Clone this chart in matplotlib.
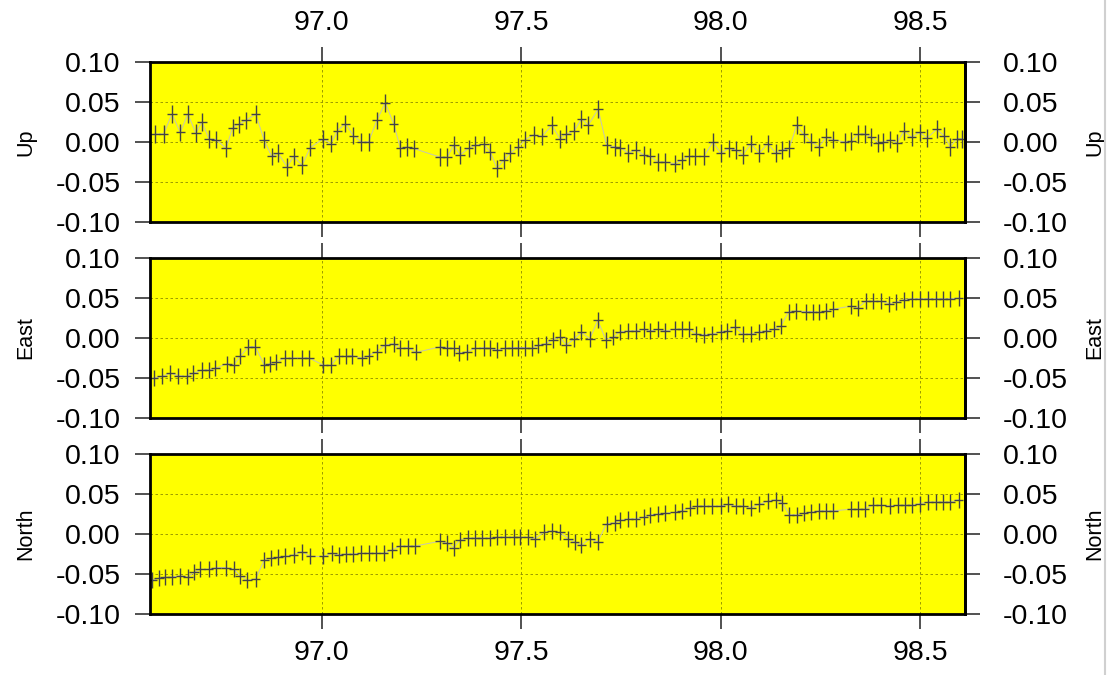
import matplotlib
matplotlib.use("Agg")
import matplotlib.pyplot as plt
from matplotlib.lines import Line2D
from matplotlib.ticker import FormatStrFormatter

# decimal years (19xx) and residuals (m)
up_t = [96.582, 96.603, 96.624, 96.645, 96.664, 96.684, 96.699, 96.717, 96.735, 96.760,
        96.776, 96.791, 96.810, 96.834, 96.855, 96.874, 96.890, 96.913, 96.929, 96.950,
        96.971, 97.003, 97.023, 97.039, 97.059, 97.079, 97.099, 97.117, 97.138, 97.159,
        97.180, 97.197, 97.213, 97.230, 97.297, 97.314, 97.331, 97.347, 97.368, 97.385,
        97.406, 97.422, 97.439, 97.456, 97.472, 97.493, 97.510, 97.531, 97.552, 97.577,
        97.597, 97.613, 97.633, 97.651, 97.668, 97.693, 97.714, 97.735, 97.748, 97.769,
        97.787, 97.807, 97.824, 97.843, 97.861, 97.885, 97.902, 97.920, 97.937, 97.958,
        97.981, 98.000, 98.021, 98.038, 98.056, 98.076, 98.097, 98.118, 98.139, 98.155,
        98.172, 98.191, 98.208, 98.227, 98.246, 98.265, 98.282, 98.311, 98.328, 98.345,
        98.361, 98.378, 98.395, 98.408, 98.426, 98.443, 98.460, 98.479, 98.500, 98.518,
        98.542, 98.560, 98.576, 98.592, 98.605]
up_v = [0.010, 0.010, 0.035, 0.012, 0.035, 0.011, 0.025, 0.004, 0.003, -0.008,
        0.018, 0.022, 0.027, 0.035, 0.003, -0.018, -0.014, -0.031, -0.018, -0.029,
        -0.007, 0.004, -0.002, 0.014, 0.023, 0.008, 0.000, 0.000, 0.027, 0.049,
        0.023, -0.008, -0.006, -0.008, -0.019, -0.019, -0.004, -0.016, -0.008, -0.004,
        -0.003, -0.012, -0.033, -0.023, -0.014, -0.006, 0.003, 0.009, 0.007, 0.021,
        0.004, 0.010, 0.014, 0.029, 0.021, 0.041, -0.004, -0.006, -0.007, -0.014,
        -0.010, -0.016, -0.018, -0.025, -0.025, -0.027, -0.023, -0.018, -0.018, -0.018,
        0.000, -0.014, -0.008, -0.010, -0.016, -0.002, -0.014, -0.002, -0.014, -0.010,
        -0.008, 0.021, 0.010, 0.000, -0.006, 0.006, 0.003, 0.000, 0.001, 0.010,
        0.010, 0.006, -0.001, 0.000, 0.003, -0.001, 0.014, 0.006, 0.012, 0.005,
        0.016, 0.008, -0.006, 0.004, 0.004]

east_t = [96.578, 96.599, 96.620, 96.640, 96.661, 96.678, 96.699, 96.716, 96.733, 96.762,
          96.779, 96.795, 96.816, 96.833, 96.856, 96.870, 96.885, 96.908, 96.926, 96.950,
          96.968, 97.004, 97.023, 97.042, 97.060, 97.075, 97.100, 97.117, 97.138, 97.159,
          97.180, 97.197, 97.216, 97.236,
          97.297, 97.314, 97.331, 97.345, 97.364, 97.385, 97.406, 97.422, 97.439, 97.460,
          97.477, 97.493, 97.510, 97.527, 97.543, 97.562, 97.580,
          97.597, 97.613, 97.633, 97.651, 97.672, 97.692, 97.712, 97.731, 97.748, 97.769,
          97.787, 97.807, 97.824, 97.843, 97.861, 97.885, 97.903, 97.920, 97.939, 97.958,
          97.979, 98.000, 98.017, 98.036, 98.055, 98.076, 98.097, 98.115, 98.134, 98.151,
          98.171, 98.189, 98.213, 98.231, 98.248, 98.265, 98.283,
          98.328, 98.345, 98.364, 98.382, 98.403, 98.423, 98.441, 98.460, 98.479, 98.500,
          98.521, 98.540, 98.558, 98.576, 98.597]
east_v = [-0.050, -0.048, -0.044, -0.047, -0.048, -0.044, -0.040, -0.040, -0.038, -0.032,
          -0.034, -0.023, -0.011, -0.011, -0.034, -0.032, -0.030, -0.025, -0.025, -0.025,
          -0.025, -0.034, -0.034, -0.023, -0.023, -0.022, -0.025, -0.022, -0.017, -0.009,
          -0.007, -0.013, -0.012, -0.018,
          -0.011, -0.012, -0.013, -0.019, -0.017, -0.013, -0.012, -0.013, -0.015, -0.013,
          -0.012, -0.012, -0.012, -0.013, -0.009, -0.007, -0.002,
          0.001, -0.009, -0.001, 0.007, -0.001, 0.022, -0.002, 0.001, 0.008, 0.009,
          0.009, 0.011, 0.009, 0.011, 0.009, 0.011, 0.011, 0.011, 0.005, 0.004,
          0.005, 0.008, 0.009, 0.014, 0.005, 0.005, 0.008, 0.009, 0.011, 0.015,
          0.033, 0.034, 0.033, 0.033, 0.032, 0.034, 0.036,
          0.040, 0.038, 0.046, 0.046, 0.046, 0.043, 0.045, 0.048, 0.049, 0.049,
          0.049, 0.049, 0.049, 0.049, 0.050]

north_t = [96.574, 96.591, 96.606, 96.623, 96.645, 96.664, 96.679, 96.695, 96.716, 96.735,
           96.760, 96.779, 96.795, 96.812, 96.834, 96.856, 96.873, 96.890, 96.908, 96.929,
           96.950, 96.971, 97.004, 97.025, 97.042, 97.060, 97.079, 97.099, 97.117, 97.135,
           97.155, 97.176, 97.197, 97.216, 97.234,
           97.297, 97.314, 97.331, 97.347, 97.366, 97.385, 97.401, 97.422, 97.439, 97.460,
           97.481, 97.497, 97.518, 97.535, 97.556, 97.577,
           97.597, 97.618, 97.634, 97.651, 97.672, 97.692, 97.714, 97.735, 97.748, 97.769,
           97.787, 97.807, 97.824, 97.843, 97.861, 97.885, 97.903, 97.924, 97.941, 97.958,
           97.979, 98.000, 98.019, 98.038, 98.056, 98.076, 98.097, 98.118, 98.139, 98.155,
           98.172, 98.191, 98.208, 98.227, 98.246, 98.265, 98.283,
           98.328, 98.345, 98.361, 98.382, 98.403, 98.424, 98.445, 98.462, 98.479, 98.500,
           98.521, 98.540, 98.558, 98.576, 98.597]
north_v = [-0.058, -0.055, -0.054, -0.054, -0.052, -0.054, -0.048, -0.044, -0.044, -0.042,
           -0.042, -0.044, -0.052, -0.058, -0.056, -0.032, -0.030, -0.029, -0.028, -0.026,
           -0.022, -0.028, -0.028, -0.024, -0.026, -0.025, -0.025, -0.024, -0.024, -0.024,
           -0.024, -0.020, -0.015, -0.015, -0.015,
           -0.009, -0.011, -0.017, -0.007, -0.005, -0.005, -0.005, -0.005, -0.004, -0.004,
           -0.004, -0.004, -0.004, -0.006, 0.002, 0.004,
           0.002, -0.006, -0.010, -0.014, -0.006, -0.010, 0.013, 0.014, 0.017, 0.019,
           0.019, 0.021, 0.024, 0.025, 0.026, 0.027, 0.029, 0.033, 0.035, 0.035,
           0.035, 0.035, 0.037, 0.035, 0.035, 0.033, 0.037, 0.041, 0.043, 0.039,
           0.024, 0.024, 0.026, 0.027, 0.029, 0.029, 0.029,
           0.031, 0.031, 0.031, 0.036, 0.036, 0.035, 0.036, 0.036, 0.036, 0.038,
           0.040, 0.040, 0.040, 0.040, 0.043]

panels = [("Up", up_t, up_v, 0.011),
          ("East", east_t, east_v, 0.010),
          ("North", north_t, north_v, 0.010)]

x_ticks = [97.0, 97.5, 98.0, 98.5]
y_ticks = [-0.10, -0.05, 0.00, 0.05, 0.10]
t_err = 0.012  # roughly half a week

plt.rcParams['font.family'] = ['Liberation Sans', 'DejaVu Sans']
plt.rcParams['axes.unicode_minus'] = False

fig = plt.figure(figsize=(11.1, 6.75), dpi=100)

left, width = 150 / 1110, 815 / 1110
tops = [62, 258, 454]
h = 160

for i, (name, t, v, verr) in enumerate(panels):
    ax = fig.add_axes([left, 1 - (tops[i] + h) / 675, width, h / 675])
    ax.set_facecolor('#ffff00')

    ax.plot(t, v, color='#c4c4b4', lw=0.7, zorder=2)
    ax.errorbar(t, v, xerr=t_err, yerr=verr, fmt='none', ecolor='#444444',
                elinewidth=1.0, capsize=0, zorder=3)

    ax.set_xlim(96.569, 98.613)
    ax.set_ylim(-0.10, 0.10)
    ax.set_xticks(x_ticks)
    ax.set_yticks(y_ticks)
    ax.xaxis.set_major_formatter(FormatStrFormatter('%.1f'))
    ax.yaxis.set_major_formatter(FormatStrFormatter('%.2f'))
    ax.grid(True, color='#8c8c00', linestyle=(0, (3, 3)), linewidth=0.6)
    ax.set_axisbelow(True)

    for s in ax.spines.values():
        s.set_linewidth(2.0)
        s.set_color('black')
        s.set_zorder(5)

    ax.tick_params(axis='both', direction='out', length=11, width=1.2,
                   color='#333333', labelsize=20.5)
    ax.tick_params(axis='x', top=True, bottom=True,
                   labeltop=(i == 0), labelbottom=(i == 2), pad=8)
    ax.tick_params(axis='y', pad=10)
    ax.set_ylabel(name, fontsize=15.5, labelpad=14)

    sec = ax.secondary_yaxis('right')
    sec.set_yticks(y_ticks)
    sec.yaxis.set_major_formatter(FormatStrFormatter('%.2f'))
    sec.tick_params(direction='out', length=11, width=1.2, color='#333333',
                    labelsize=20.5, pad=16)
    sec.spines['right'].set_linewidth(2.0)
    sec.set_ylabel(name, fontsize=15.5, labelpad=12)

# thin frame line at the right edge of the original image
fig.add_artist(Line2D([0.9955, 0.9955], [0, 1], transform=fig.transFigure,
                      color='#d0d0d0', lw=1.5))

fig.savefig('out.png', dpi=100, facecolor='white')
